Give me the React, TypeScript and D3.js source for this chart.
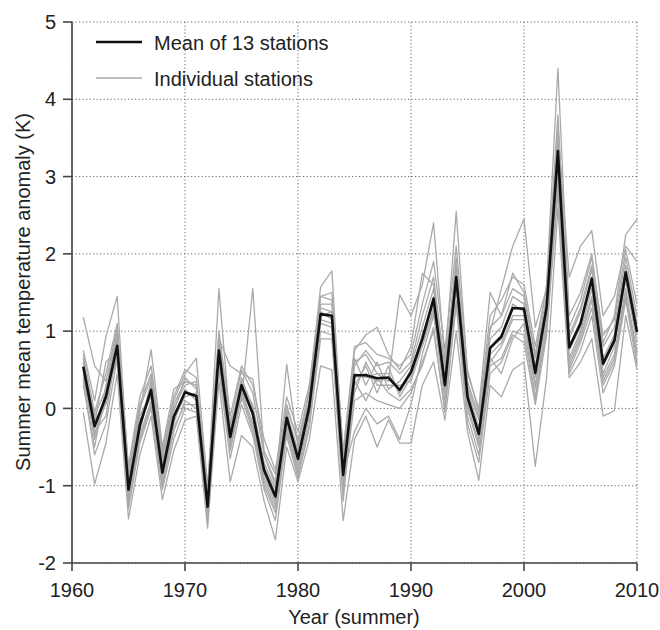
import React from "react";
import * as d3 from "d3";

// years 1961..2010
const years = d3.range(1961, 2011);

const meanSeries = [
  0.54, -0.23, 0.15, 0.81, -1.05, -0.22, 0.24, -0.83, -0.11, 0.21,
  0.16, -1.27, 0.75, -0.37, 0.3, -0.07, -0.8, -1.14, -0.12, -0.65,
  0.02, 1.22, 1.2, -0.86, 0.43, 0.43, 0.39, 0.4, 0.24, 0.47,
  0.9, 1.42, 0.3, 1.7, 0.15, -0.33, 0.78, 0.93, 1.3, 1.29,
  0.46, 1.31, 3.33, 0.79, 1.1, 1.68, 0.58, 0.88, 1.76, 0.99,
];

const station1 = [1.18, 0.55, 0.35, 1.05, -0.8, 0.05, 0.45, -0.6, 0.1, 0.45, 0.65, -1.0, 0.9, 0.55, 0.45, 0.38, -0.55, -0.85, 0.05, -0.45, 0.1, 1.45, 1.4, -0.6, 0.75, 0.95, 1.05, 0.7, 0.5, 0.8, 1.75, 1.6, 0.55, 1.85, 0.35, -0.1, 1.0, 1.55, 2.1, 2.45, 1.05, 1.55, 3.6, 1.7, 2.1, 2.3, 1.2, 1.45, 2.1, 1.9];
const station2 = [-0.05, -0.98, -0.45, 0.45, -1.43, -0.6, -0.1, -1.18, -0.55, -0.15, -0.1, -1.55, 0.35, -0.95, -0.35, -0.5, -1.2, -1.7, -0.5, -0.95, -0.4, 0.55, 0.5, -1.45, -0.4, -0.1, -0.5, -0.15, -0.45, -0.45, 0.3, 0.6, -0.15, 1.0, -0.3, -0.93, 0.3, 0.15, 0.5, 0.6, -0.75, 0.4, 2.6, 0.4, 0.6, 0.9, -0.1, -0.03, 1.2, 0.5];
const station3 = [0.75, 0.1, 0.93, 1.45, -0.9, -0.05, 0.76, -0.5, 0.25, 0.35, 0.3, -1.1, 1.55, -0.2, 0.1, 1.55, -0.6, -1.0, 0.57, -0.5, 0.25, 1.57, 1.78, -0.7, 0.6, 0.7, 0.45, 0.35, 1.47, 1.2, 1.6, 2.4, 0.6, 2.55, 0.45, 0.0, 1.5, 1.2, 1.75, 1.5, 0.7, 1.6, 4.4, 1.2, 1.5, 2.0, 0.85, 1.2, 2.25, 2.45];
const station4 = [0.4, -0.35, 0.2, 0.95, -1.15, -0.3, 0.3, -0.9, -0.2, 0.25, 0.1, -1.35, 0.8, -0.45, 0.25, -0.2, -0.9, -1.25, -0.2, -0.75, -0.05, 1.15, 1.1, -0.95, 0.3, 0.55, 0.2, 0.55, 0.15, 0.4, 0.85, 1.3, 0.2, 1.65, 0.05, -0.45, 0.7, 0.85, 1.2, 1.2, 0.3, 1.25, 3.2, 0.65, 1.0, 1.55, 0.45, 0.8, 1.65, 0.85];
const station5 = [0.6, -0.15, 0.05, 0.7, -0.95, -0.15, 0.15, -0.75, -0.05, 0.4, 0.25, -1.2, 0.65, -0.3, 0.4, 0.0, -0.7, -1.05, -0.05, -0.55, 0.1, 1.3, 1.25, -0.8, 0.65, 0.3, 0.6, 0.25, 0.35, 0.55, 1.05, 1.55, 0.4, 1.8, 0.25, -0.25, 0.9, 1.05, 1.45, 1.35, 0.55, 1.4, 3.45, 0.9, 1.25, 1.8, 0.65, 0.95, 1.85, 1.1];
const station6 = [0.3, -0.5, 0.3, 0.6, -1.2, -0.4, 0.05, -1.0, -0.3, 0.1, 0.0, -1.4, 0.6, -0.55, 0.15, -0.3, -1.0, -1.35, -0.3, -0.85, -0.2, 1.0, 0.95, -1.1, 0.1, 0.2, 0.1, 0.05, 0.0, 0.2, 0.6, 1.0, 0.0, 1.4, -0.1, -0.6, 0.55, 0.65, 1.0, 0.95, 0.15, 1.0, 2.9, 0.5, 0.85, 1.3, 0.3, 0.6, 1.45, 0.7];
const station7 = [0.7, -0.05, 0.45, 1.1, -0.75, 0.15, 0.55, -0.55, 0.15, 0.5, 0.4, -1.05, 1.0, -0.1, 0.55, 0.3, -0.4, -0.8, 0.15, -0.3, 0.3, 1.45, 1.5, -0.55, 0.8, 0.85, 0.7, 0.65, 0.55, 0.7, 1.35, 1.9, 0.75, 2.1, 0.5, -0.05, 1.2, 1.4, 1.7, 1.6, 0.8, 1.55, 3.8, 1.05, 1.4, 1.95, 0.95, 1.15, 2.05, 1.35];
const station8 = [0.5, -0.3, -0.1, 0.85, -1.1, -0.25, 0.35, -0.85, -0.15, 0.15, 0.2, -1.3, 0.7, -0.4, 0.35, -0.1, -0.85, -1.2, -0.15, -0.7, 0.0, 1.2, 1.25, -0.9, 0.45, 0.4, 0.45, 0.45, 0.2, 0.45, 0.95, 1.35, 0.25, 1.75, 0.1, -0.35, 0.8, 0.9, 1.35, 1.25, 0.4, 1.3, 3.35, 0.75, 1.05, 1.65, 0.55, 0.85, 1.75, 0.95];
const station9 = [0.65, -0.2, 0.6, 0.75, -1.0, -0.1, 0.2, -0.7, 0.0, 0.3, 0.35, -1.25, 0.85, -0.25, 0.3, 0.05, -0.75, -1.1, -0.1, -0.6, 0.05, 1.25, 1.15, -0.85, -0.3, 0.0, -0.2, -0.1, -0.4, 0.05, 0.7, 1.2, 0.35, 1.6, 0.2, -0.4, 0.65, 0.45, 0.9, 1.1, 0.1, 1.15, 3.1, 0.6, 0.95, 1.45, 0.4, 0.7, 1.55, 0.6];
const station10 = [0.45, -0.4, 0.1, 0.9, -1.25, -0.35, 0.1, -0.95, -0.25, 0.05, 0.05, -1.35, 0.55, -0.5, 0.2, -0.25, -0.95, -1.3, -0.25, -0.8, -0.1, 1.1, 1.05, -1.0, 0.2, 0.6, 0.3, 0.3, 0.3, 0.35, 0.8, 1.25, 0.1, 1.55, 0.0, -0.5, 0.6, 0.8, 1.15, 1.15, 0.25, 1.1, 3.05, 0.55, 0.9, 1.4, 0.35, 0.65, 1.5, 0.75];
const station11 = [0.55, -0.1, 0.25, 1.0, -0.85, 0.0, 0.4, -0.65, 0.05, 0.35, 0.3, -1.15, 0.95, -0.2, 0.5, 0.2, -0.6, -0.95, 0.0, -0.4, 0.2, 1.35, 1.35, -0.7, 0.55, 0.75, 0.55, 0.6, 0.45, 0.6, 1.2, 1.7, 0.5, 1.95, 0.3, -0.15, 1.05, 1.2, 1.55, 1.45, 0.65, 1.45, 3.65, 0.95, 1.3, 1.85, 0.8, 1.05, 1.95, 1.2];
const station12 = [0.35, -0.6, -0.2, 0.65, -1.3, -0.45, 0.0, -1.05, -0.4, 0.0, -0.05, -1.45, 0.5, -0.65, 0.05, -0.35, -1.05, -1.45, -0.35, -0.9, -0.25, 0.9, 0.9, -1.2, 0.35, 0.1, 0.4, 0.2, 0.1, 0.25, 0.55, 1.05, -0.05, 1.35, -0.2, -0.7, 0.45, 0.6, 0.95, 0.85, 0.05, 0.95, 2.8, 0.45, 0.75, 1.2, 0.2, 0.55, 1.4, 0.55];
const station13 = [0.6, -0.25, 0.15, 0.8, -1.05, -0.2, 0.25, -0.8, -0.1, 0.2, 0.15, -1.25, 0.75, -0.35, 0.3, -0.05, -0.8, -1.15, -0.1, -0.65, 0.05, 1.2, 1.2, -0.85, 0.4, 0.45, 0.35, 0.4, 0.25, 0.5, 0.9, 1.45, 0.3, 1.7, 0.15, -0.3, 0.8, 0.95, 1.3, 1.3, 0.45, 1.3, 3.3, 0.8, 1.1, 1.7, 0.6, 0.9, 1.75, 1.0];

const stations = [
  station1, station2, station3, station4, station5, station6, station7,
  station8, station9, station10, station11, station12, station13,
];

const xTicks = [1960, 1970, 1980, 1990, 2000, 2010];
const yTicks = [-2, -1, 0, 1, 2, 3, 4, 5];

const FONT = "'Liberation Sans', Arial, Helvetica, sans-serif";

export default function App() {
  const width = 660;
  const height = 630;
  const left = 72;
  const right = 637;
  const top = 22;
  const bottom = 563;

  const x = d3.scaleLinear().domain([1960, 2010]).range([left, right]);
  const y = d3.scaleLinear().domain([-2, 5]).range([bottom, top]);

  const line = d3
    .line<number>()
    .x((_, i) => x(years[i]))
    .y((d) => y(d));

  const axisColor = "#444";
  const gridColor = "#666";

  return (
    <div style={{ position: "absolute", left: 0, top: 0 }}>
      <svg width={width} height={height} style={{ display: "block", background: "#fff" }}>
        {/* dotted grid */}
        {yTicks.map((t) => (
          <line
            key={"gy" + t}
            x1={left}
            x2={right}
            y1={y(t)}
            y2={y(t)}
            stroke={gridColor}
            strokeWidth={1}
            strokeDasharray="1.2,2.3"
          />
        ))}
        {xTicks.map((t) => (
          <line
            key={"gx" + t}
            x1={x(t)}
            x2={x(t)}
            y1={top}
            y2={bottom}
            stroke={gridColor}
            strokeWidth={1}
            strokeDasharray="1.2,2.3"
          />
        ))}

        {/* individual stations */}
        {stations.map((s, i) => (
          <path key={"s" + i} d={line(s) || ""} fill="none" stroke="#aaaaaa" strokeWidth={1.3} strokeLinejoin="round" />
        ))}

        {/* mean */}
        <path d={line(meanSeries) || ""} fill="none" stroke="#111" strokeWidth={2.6} strokeLinejoin="round" />

        {/* axes */}
        <line x1={left} x2={left} y1={top} y2={bottom} stroke={axisColor} strokeWidth={1.6} />
        <line x1={left} x2={right} y1={bottom} y2={bottom} stroke={axisColor} strokeWidth={1.6} />
        {yTicks.map((t) => (
          <g key={"ty" + t}>
            <line x1={left - 9} x2={left} y1={y(t)} y2={y(t)} stroke={axisColor} strokeWidth={1.6} />
            <text x={left - 16} y={y(t)} dy="0.36em" textAnchor="end" fontFamily={FONT} fontSize={20} fill="#222">
              {t}
            </text>
          </g>
        ))}
        {xTicks.map((t) => (
          <g key={"tx" + t}>
            <line x1={x(t)} x2={x(t)} y1={bottom} y2={bottom + 8} stroke={axisColor} strokeWidth={1.6} />
            <text x={x(t)} y={bottom + 34} textAnchor="middle" fontFamily={FONT} fontSize={20} fill="#222">
              {t}
            </text>
          </g>
        ))}

        {/* axis titles */}
        <text x={354} y={height - 6} textAnchor="middle" fontFamily={FONT} fontSize={20} fill="#222">
          Year (summer)
        </text>
        <text
          transform={`translate(30, 292) rotate(-90)`}
          textAnchor="middle"
          fontFamily={FONT}
          fontSize={20}
          fill="#222"
        >
          Summer mean temperature anomaly (K)
        </text>

        {/* legend */}
        <line x1={96} x2={142} y1={42} y2={42} stroke="#111" strokeWidth={2.6} />
        <text x={154} y={50} fontFamily={FONT} fontSize={20} fill="#222">
          Mean of 13 stations
        </text>
        <line x1={96} x2={142} y1={78} y2={78} stroke="#aaaaaa" strokeWidth={1.3} />
        <text x={154} y={86} fontFamily={FONT} fontSize={20} fill="#222">
          Individual stations
        </text>
      </svg>
    </div>
  );
}
